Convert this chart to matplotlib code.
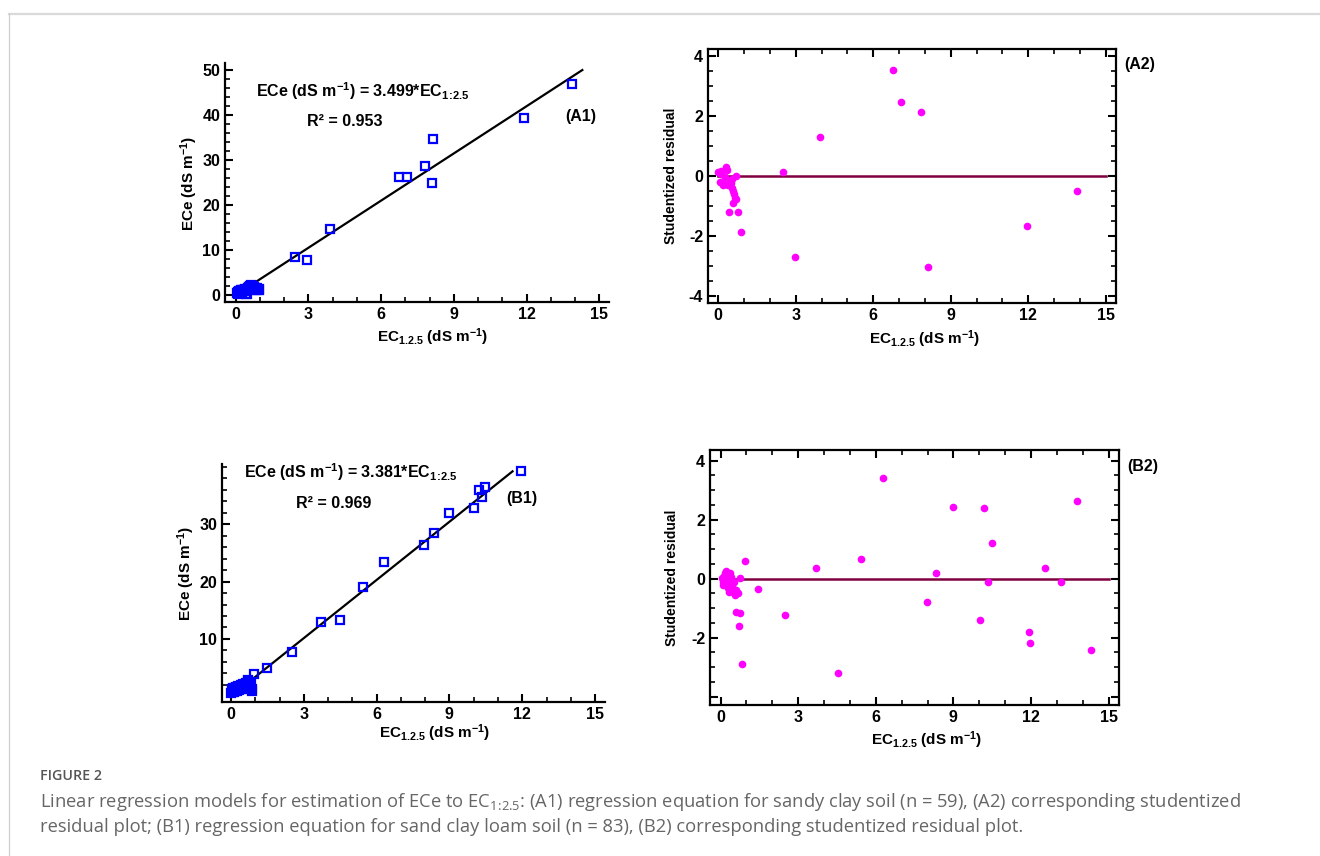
import matplotlib
matplotlib.use("Agg")
import matplotlib.pyplot as plt
from matplotlib.ticker import MultipleLocator, FixedLocator
from matplotlib.lines import Line2D

plt.rcParams['font.family'] = ['Liberation Sans', 'DejaVu Sans']
plt.rcParams['font.weight'] = 'bold'
plt.rcParams['axes.unicode_minus'] = False
plt.rcParams['mathtext.fontset'] = 'custom'
plt.rcParams['mathtext.bf'] = 'Liberation Sans:bold'
plt.rcParams['mathtext.rm'] = 'Liberation Sans:bold'
plt.rcParams['mathtext.sf'] = 'Open Sans:normal'
plt.rcParams['mathtext.default'] = 'bf'

# ---------------- data ----------------
# (A1) sandy clay soil: EC1:2.5 vs ECe
a1_x = [13.86, 11.91, 8.13, 7.82, 6.72, 7.08, 8.10, 3.90, 2.46, 2.93,
        0.05, 0.08, 0.10, 0.12, 0.15, 0.18, 0.20, 0.22, 0.25, 0.28, 0.30, 0.32,
        0.35, 0.38, 0.40, 0.42, 0.45, 0.48, 0.50, 0.52, 0.55, 0.58, 0.60, 0.62,
        0.65, 0.68, 0.70, 0.72, 0.75, 0.78, 0.80, 0.85, 0.88, 0.92, 0.95, 0.98]
a1_y = [47.0, 39.4, 34.7, 28.7, 26.2, 26.2, 25.0, 14.7, 8.5, 7.7,
        0.4, 0.6, 0.3, 0.8, 0.5, 0.9, 0.6, 1.0, 0.7, 1.1, 0.8, 1.2,
        0.9, 1.3, 1.0, 0.2, 1.4, 0.3, 1.6, 1.2, 1.8, 1.5, 2.0, 1.3,
        2.2, 1.7, 2.0, 1.4, 1.8, 1.2, 1.6, 1.3, 1.5, 1.2, 1.4, 1.1]
a1_slope = 3.499
a1_r2 = 0.953
a1_line_x = [0.0, 14.3]

# (A2) studentized residuals, sandy clay soil
a2_x = [6.76, 7.09, 7.85, 3.93, 2.50, 13.87, 11.94, 2.97, 8.11, 0.90, 0.43, 0.77,
        0.0, 0.13, 0.30, 0.19, 0.45, 0.52, 0.58, 0.65, 0.71, 0.58, 0.68,
        0.07, 0.27, 0.20, 0.38, 0.50, 0.62, 0.10, 0.35, 0.55]
a2_y = [3.54, 2.46, 2.14, 1.31, 0.12, -0.52, -1.67, -2.72, -3.04, -1.88, -1.20, -1.20,
        0.12, 0.15, 0.30, -0.23, -0.17, -0.40, -0.50, -0.74, -0.79, -0.90, 0.0,
        -0.20, -0.05, -0.30, -0.30, -0.25, -0.60, 0.05, 0.20, -0.10]

# (B1) sand clay loam soil: EC1:2.5 vs ECe
b1_x = [11.95, 10.21, 10.48, 10.33, 10.02, 8.97, 8.36, 7.97, 6.30, 5.43,
        4.50, 3.69, 2.51, 1.47, 0.96,
        0.02, 0.04, 0.05, 0.07, 0.09, 0.10, 0.12, 0.14, 0.16, 0.18, 0.20, 0.22,
        0.25, 0.28, 0.30, 0.33, 0.36, 0.40, 0.43, 0.46, 0.50, 0.53, 0.56, 0.60,
        0.63, 0.66, 0.69, 0.72, 0.75, 0.78, 0.80, 0.82, 0.85, 0.88]
b1_y = [39.2, 35.9, 36.5, 34.8, 32.9, 32.0, 28.5, 26.4, 23.5, 19.0,
        13.3, 12.9, 7.7, 4.9, 3.9,
        0.6, 0.9, 1.2, 0.7, 1.0, 1.4, 0.8, 1.1, 1.5, 0.9, 1.2, 1.6,
        1.0, 1.3, 1.8, 1.1, 1.5, 2.0, 1.3, 1.7, 2.2, 1.5, 1.9, 2.4,
        1.6, 2.1, 2.9, 2.6, 1.8, 1.2, 1.5, 2.2, 1.0, 1.3]
b1_slope = 3.381
b1_r2 = 0.969
b1_line_x = [0.04, 11.6]

# (B2) studentized residuals, sand clay loam soil
b2_x = [6.29, 8.97, 10.19, 13.76, 10.49, 5.44, 3.67, 8.32, 12.54, 10.32, 13.14,
        7.96, 10.03, 11.91, 11.95, 14.30, 4.52, 2.49, 1.44, 0.95, 0.82, 0.70,
        0.59, 0.75, 0.75,
        0.17, 0.36, 0.04, 0.23, 0.10, 0.29, 0.49, 0.68, 0.55, 0.20, 0.30, 0.42,
        0.12, 0.15, 0.38, 0.45, 0.08, 0.25, 0.33, 0.60, 0.50]
b2_y = [3.40, 2.42, 2.38, 2.63, 1.22, 0.67, 0.37, 0.19, 0.37, -0.10, -0.10,
        -0.79, -1.41, -1.82, -2.18, -2.43, -3.20, -1.23, -0.36, 0.60, -2.90, -1.59,
        -1.12, -1.16, 0.03,
        0.18, 0.18, 0.01, -0.10, -0.21, -0.33, -0.44, -0.48, -0.56, 0.25, 0.10, 0.07,
        0.10, -0.05, -0.20, -0.25, -0.10, 0.05, -0.45, -0.40, -0.10]

zero_line_x = [0.0, 15.0]

x_major = [0, 3, 6, 9, 12, 15]

# ---------------- figure ----------------
W, H = 1320, 856
fig = plt.figure(figsize=(W / 100, H / 100), dpi=100)
fig.patch.set_facecolor('white')


def ax_px(l, t, r, b):
    return fig.add_axes([l / W, 1 - b / H, (r - l) / W, (b - t) / H])


def ftext(x, y, s, **kw):
    return fig.text(x / W, 1 - y / H, s, **kw)


def style(ax, box):
    for side in ['left', 'bottom', 'top', 'right']:
        ax.spines[side].set_linewidth(1.6)
        ax.spines[side].set_color('black')
    if not box:
        ax.spines['top'].set_visible(False)
        ax.spines['right'].set_visible(False)
    ax.tick_params(which='major', direction='in', length=6, width=1.5,
                   labelsize=11.5, pad=3.5, top=box, right=box, colors='black')
    ax.tick_params(which='minor', direction='in', length=3.5, width=1.2,
                   top=box, right=box)
    ax.xaxis.set_major_locator(FixedLocator(x_major))
    ax.xaxis.set_minor_locator(MultipleLocator(1))
    ax.patch.set_alpha(0)


sq = dict(marker='s', ms=5.5, mfc='none', mec='#0000ff', mew=1.6, ls='none')
dot = dict(marker='o', ms=5.5, mfc='#ff00ff', mec='#ff00ff', mew=0, ls='none')

xlab = 'EC$_{1.2.5}$ (dS m$^{-1}$)'
sub = r'$_{1\!:\!2.5}$'
LBL = 11
TXT = 11.5

# ---- A1 ----
ax = ax_px(225, 63, 609, 302)
style(ax, False)
ax.plot(a1_line_x, [a1_slope * v for v in a1_line_x], color='black', lw=1.6)
ax.plot(a1_x, a1_y, **sq)
ax.set_xlim(-0.44, 15.4)
ax.set_ylim(-1.56, 51.6)
ax.yaxis.set_major_locator(FixedLocator([0, 10, 20, 30, 40, 50]))
ax.yaxis.set_minor_locator(MultipleLocator(2))
ftext(256, 91, f'ECe (dS m$^{{-1}}$) = {a1_slope:.3f}*EC' + sub,
      fontsize=TXT, ha='left', va='center')
ftext(307, 122, f'R\u00b2 = {a1_r2:.3f}', fontsize=TXT, ha='left', va='center')
ftext(565, 117, '(A1)', fontsize=TXT, ha='left', va='center')
ftext(189, 183, 'ECe (dS m$^{-1}$)', fontsize=LBL, rotation=90, ha='center', va='center')
ftext(433, 337, xlab, fontsize=LBL, ha='center', va='center')

# ---- A2 ----
ax = ax_px(708, 49, 1116, 303)
style(ax, True)
ax.plot(zero_line_x, [0, 0], color='#800040', lw=1.8)
ax.plot(a2_x, a2_y, **dot)
ax.set_xlim(-0.39, 15.39)
ax.set_ylim(-4.25, 4.24)
ax.yaxis.set_major_locator(FixedLocator([-4, -2, 0, 2, 4]))
ax.yaxis.set_minor_locator(MultipleLocator(0.5))
ftext(1124, 65, '(A2)', fontsize=TXT, ha='left', va='center')
ftext(671, 176, 'Studentized residual', fontsize=10, rotation=90, ha='center', va='center')
ftext(925, 339, xlab, fontsize=LBL, ha='center', va='center')

# ---- B1 ----
ax = ax_px(222, 464, 605, 702)
style(ax, False)
ax.plot(b1_line_x, [b1_slope * v for v in b1_line_x], color='black', lw=1.6)
ax.plot(b1_x, b1_y, **sq)
ax.set_xlim(-0.37, 15.41)
ax.set_ylim(-0.99, 40.5)
ax.yaxis.set_major_locator(FixedLocator([10, 20, 30]))
ax.yaxis.set_minor_locator(FixedLocator([2, 4, 6, 8, 12, 14, 16, 18, 22, 24, 26, 28,
                                         32, 34, 36, 38, 40]))
ftext(244, 472, f'ECe (dS m$^{{-1}}$) = {b1_slope:.3f}*EC' + sub,
      fontsize=TXT, ha='left', va='center')
ftext(296, 503, f'R\u00b2 = {b1_r2:.3f}', fontsize=TXT, ha='left', va='center')
ftext(506, 498, '(B1)', fontsize=TXT, ha='left', va='center')
ftext(186, 573, 'ECe (dS m$^{-1}$)', fontsize=LBL, rotation=90, ha='center', va='center')
ftext(435, 733, xlab, fontsize=LBL, ha='center', va='center')

# ---- B2 ----
ax = ax_px(710, 450, 1119, 705)
style(ax, True)
ax.plot(zero_line_x, [0, 0], color='#800040', lw=1.8)
ax.plot(b2_x, b2_y, **dot)
ax.set_xlim(-0.41, 15.4)
ax.set_ylim(-4.28, 4.36)
ax.yaxis.set_major_locator(FixedLocator([-4, -2, 0, 2, 4]))
ax.set_yticklabels(['', '-2', '0', '2', '4'])
ax.yaxis.set_minor_locator(MultipleLocator(0.5))
ftext(1127, 466, '(B2)', fontsize=TXT, ha='left', va='center')
ftext(672, 578, 'Studentized residual', fontsize=10, rotation=90, ha='center', va='center')
ftext(927, 740, xlab, fontsize=LBL, ha='center', va='center')

# ---- frame lines ----
fig.add_artist(Line2D([9 / W, 1.0], [1 - 14 / H, 1 - 14 / H], color='#d9d9d9', lw=1.6,
                      transform=fig.transFigure))
fig.add_artist(Line2D([9 / W, 9 / W], [1 - 14 / H, 0], color='#cfcfcf', lw=0.9,
                      transform=fig.transFigure))

# ---- caption ----
CAP = 13.2
ftext(40, 776, 'FIGURE 2', fontsize=10.3, family=['Open Sans', 'DejaVu Sans'],
      weight='semibold', color='#555555', ha='left', va='center')
ftext(40, 802, r'Linear regression models for estimation of ECe to EC$_{\mathsf{1\!:\!2.5}}$: '
      '(A1) regression equation for sandy clay soil (n = 59), (A2) corresponding studentized',
      fontsize=CAP, family=['Open Sans', 'DejaVu Sans'], weight='normal',
      color='#666666', ha='left', va='center')
ftext(40, 827, 'residual plot; (B1) regression equation for sand clay loam soil (n = 83), '
      '(B2) corresponding studentized residual plot.',
      fontsize=CAP, family=['Open Sans', 'DejaVu Sans'], weight='normal',
      color='#666666', ha='left', va='center')

fig.savefig('out.png', dpi=100)
